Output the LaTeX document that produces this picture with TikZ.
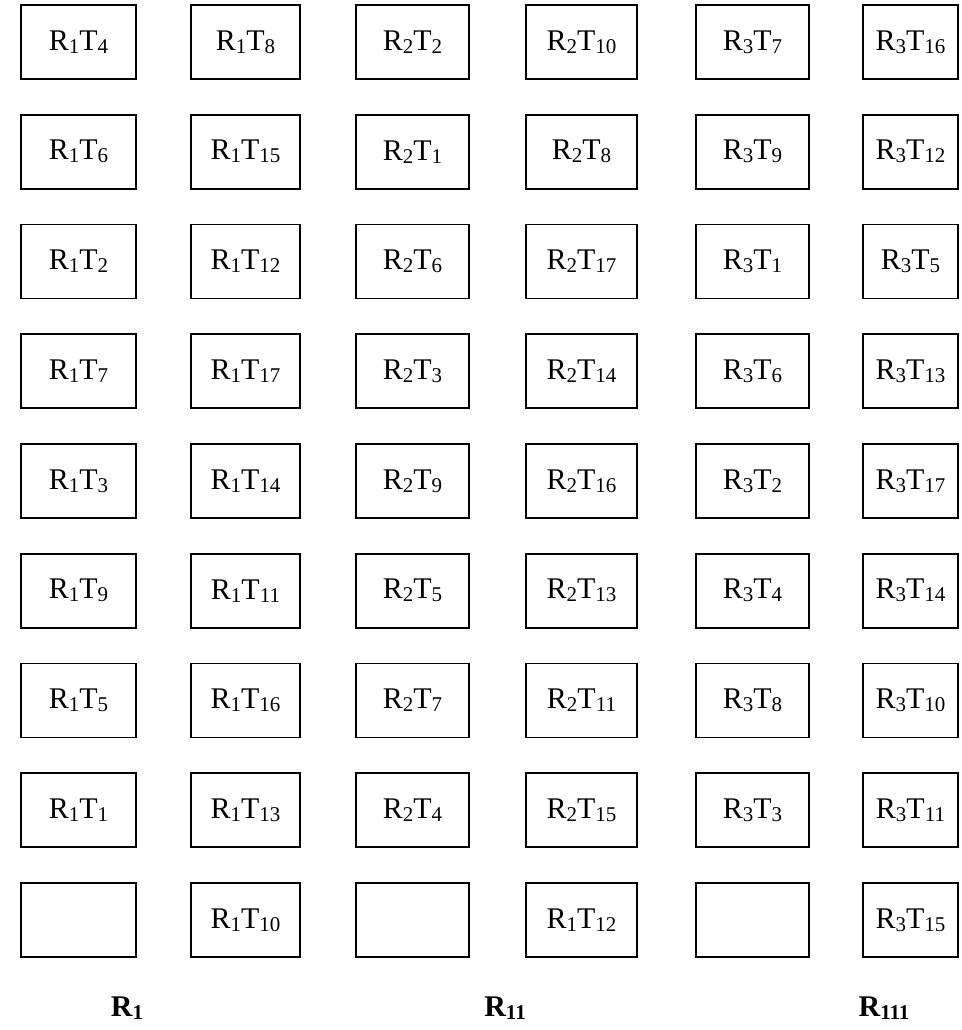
\documentclass[tikz,border=0pt]{standalone}
\usepackage{fontspec}
\setmainfont{Liberation Serif}
\newcommand\sbx[1]{\raisebox{-3pt}{\fontsize{21}{21}\selectfont #1}}
\newcommand\rtx[2]{R\sbx{#1}T\sbx{#2}}
\tikzset{
  cell/.style={draw, line width=1.8pt, minimum height=74pt, inner sep=0pt,
    font=\fontsize{30}{33}\selectfont},
  ca/.style={cell, minimum width=115pt},
  cb/.style={cell, minimum width=109pt},
  cc/.style={cell, minimum width=113pt},
  cd/.style={cell, minimum width=111pt},
  ce/.style={cell, minimum width=113pt},
  cf/.style={cell, minimum width=95pt},
  lbl/.style={inner sep=0pt, font=\fontsize{30}{33}\selectfont\bfseries}
}
\begin{document}
\begin{tikzpicture}[x=1pt,y=-1pt]
\useasboundingbox (0,0) rectangle (961,1030);
% row 1
\node[ca] (a1) at (78.5,42) {\rtx{1}{4}};
\node[cb] (b1) at (245.5,42) {\rtx{1}{8}};
\node[cc] (c1) at (412.5,42) {\rtx{2}{2}};
\node[cd] (d1) at (581.5,42) {\rtx{2}{10}};
\node[ce] (e1) at (752.5,42) {\rtx{3}{7}};
\node[cf] (f1) at (910.5,42) {\rtx{3}{16}};
% row 2
\node[ca] (a2) at (78.5,151.75) {\rtx{1}{6}};
\node[cb] (b2) at (245.5,151.75) {\rtx{1}{15}};
\node[cc] (c2) at (412.5,151.75) {\rtx{2}{1}};
\node[cd] (d2) at (581.5,151.75) {\rtx{2}{8}};
\node[ce] (e2) at (752.5,151.75) {\rtx{3}{9}};
\node[cf] (f2) at (910.5,151.75) {\rtx{3}{12}};
% row 3
\node[ca] (a3) at (78.5,261.5) {\rtx{1}{2}};
\node[cb] (b3) at (245.5,261.5) {\rtx{1}{12}};
\node[cc] (c3) at (412.5,261.5) {\rtx{2}{6}};
\node[cd] (d3) at (581.5,261.5) {\rtx{2}{17}};
\node[ce] (e3) at (752.5,261.5) {\rtx{3}{1}};
\node[cf] (f3) at (910.5,261.5) {\rtx{3}{5}};
% row 4
\node[ca] (a4) at (78.5,371.25) {\rtx{1}{7}};
\node[cb] (b4) at (245.5,371.25) {\rtx{1}{17}};
\node[cc] (c4) at (412.5,371.25) {\rtx{2}{3}};
\node[cd] (d4) at (581.5,371.25) {\rtx{2}{14}};
\node[ce] (e4) at (752.5,371.25) {\rtx{3}{6}};
\node[cf] (f4) at (910.5,371.25) {\rtx{3}{13}};
% row 5
\node[ca] (a5) at (78.5,481) {\rtx{1}{3}};
\node[cb] (b5) at (245.5,481) {\rtx{1}{14}};
\node[cc] (c5) at (412.5,481) {\rtx{2}{9}};
\node[cd] (d5) at (581.5,481) {\rtx{2}{16}};
\node[ce] (e5) at (752.5,481) {\rtx{3}{2}};
\node[cf] (f5) at (910.5,481) {\rtx{3}{17}};
% row 6
\node[ca] (a6) at (78.5,590.75) {\rtx{1}{9}};
\node[cb] (b6) at (245.5,590.75) {\rtx{1}{11}};
\node[cc] (c6) at (412.5,590.75) {\rtx{2}{5}};
\node[cd] (d6) at (581.5,590.75) {\rtx{2}{13}};
\node[ce] (e6) at (752.5,590.75) {\rtx{3}{4}};
\node[cf] (f6) at (910.5,590.75) {\rtx{3}{14}};
% row 7
\node[ca] (a7) at (78.5,700.5) {\rtx{1}{5}};
\node[cb] (b7) at (245.5,700.5) {\rtx{1}{16}};
\node[cc] (c7) at (412.5,700.5) {\rtx{2}{7}};
\node[cd] (d7) at (581.5,700.5) {\rtx{2}{11}};
\node[ce] (e7) at (752.5,700.5) {\rtx{3}{8}};
\node[cf] (f7) at (910.5,700.5) {\rtx{3}{10}};
% row 8
\node[ca] (a8) at (78.5,810.25) {\rtx{1}{1}};
\node[cb] (b8) at (245.5,810.25) {\rtx{1}{13}};
\node[cc] (c8) at (412.5,810.25) {\rtx{2}{4}};
\node[cd] (d8) at (581.5,810.25) {\rtx{2}{15}};
\node[ce] (e8) at (752.5,810.25) {\rtx{3}{3}};
\node[cf] (f8) at (910.5,810.25) {\rtx{3}{11}};
% row 9
\node[ca] (a9) at (78.5,920) {};
\node[cb] (b9) at (245.5,920) {\rtx{1}{10}};
\node[cc] (c9) at (412.5,920) {};
\node[cd] (d9) at (581.5,920) {\rtx{1}{12}};
\node[ce] (e9) at (752.5,920) {};
\node[cf] (f9) at (910.5,920) {\rtx{3}{15}};
% group labels
\node[lbl] (g1) at (127,1008) {R\sbx{1}};
\node[lbl] (g2) at (505,1008) {R\sbx{11}};
\node[lbl] (g3) at (884,1008) {R\sbx{111}};
\end{tikzpicture}
\end{document}
